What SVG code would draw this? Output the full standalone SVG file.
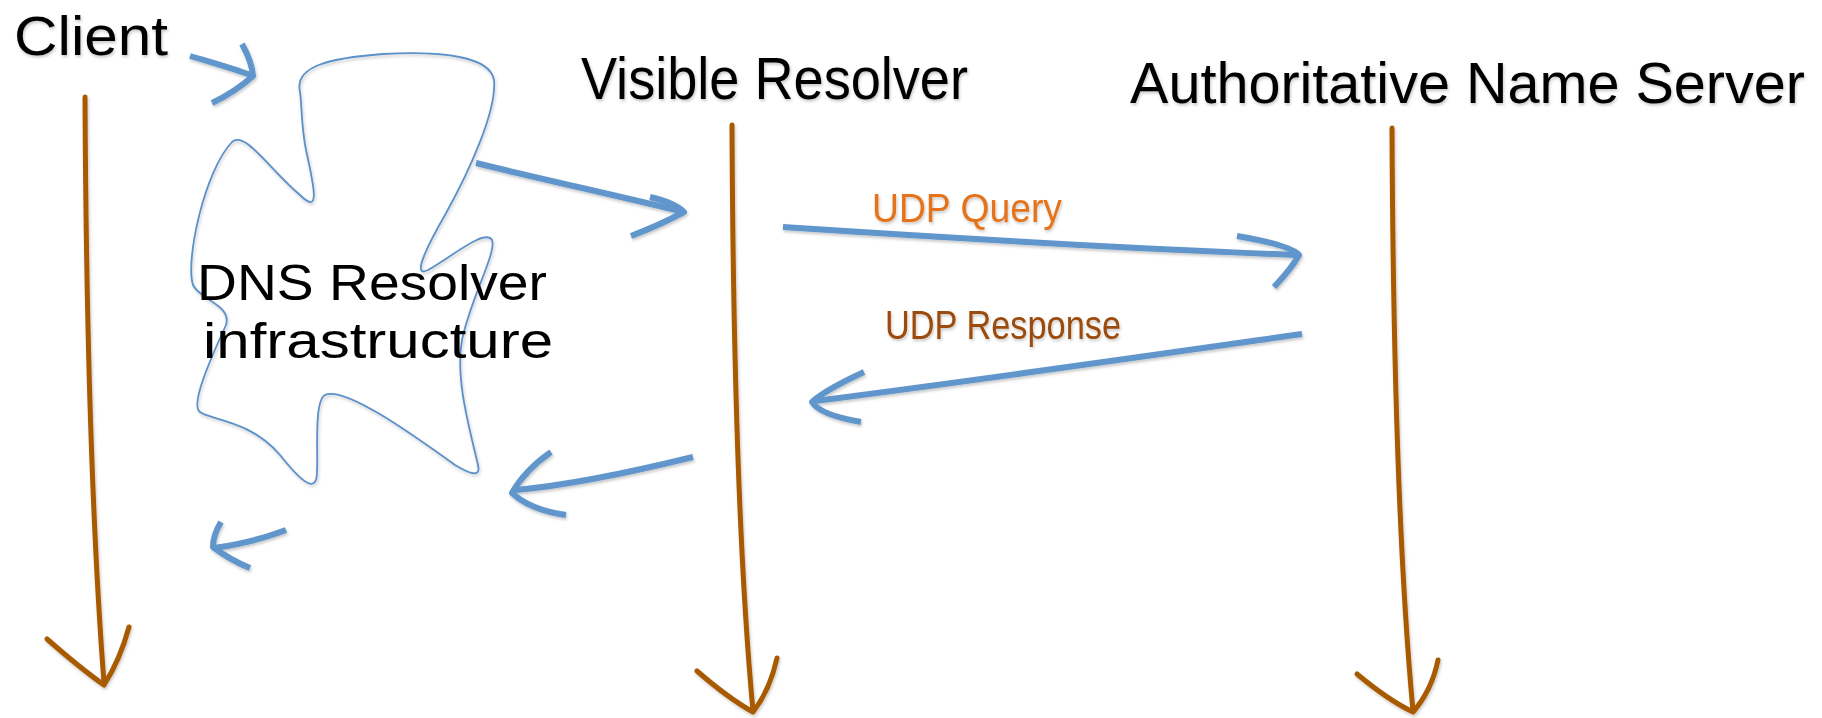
<svg xmlns="http://www.w3.org/2000/svg" width="1822" height="718" viewBox="0 0 1822 718">
  <style>
    .label { font-family: "Liberation Sans", "Noto Sans", sans-serif; fill: #000; }
    .msg { font-family: "Liberation Sans", "Noto Sans", sans-serif; }
    .lifeline { fill: none; stroke: #A85A00; stroke-width: 5; stroke-linecap: round; stroke-linejoin: round; }
    .flow { fill: none; stroke: #6096CB; stroke-width: 6; stroke-linecap: butt; stroke-linejoin: round; }
    .cloud { fill: none; stroke: #5B90C8; stroke-width: 1.8; stroke-linejoin: round; }
  </style>
  <defs>
    <filter id="soft" x="-5%" y="-5%" width="110%" height="110%">
      <feDropShadow dx="1" dy="2" stdDeviation="1.5" flood-color="#000" flood-opacity="0.22"/>
    </filter>
  </defs>

  <rect width="1822" height="718" fill="#fff"/>

  <!-- participants: label plus vertical timeline -->
  <g id="node-client" filter="url(#soft)">
    <text class="label" x="14" y="55" font-size="56" textLength="154" lengthAdjust="spacingAndGlyphs">Client</text>
    <path class="lifeline" d="M85,97 C86,300 90,500 104,683"/>
    <path class="lifeline" d="M47,639 Q80,668 104,685 Q120,660 129,627"/>
  </g>

  <g id="node-visible-resolver" filter="url(#soft)">
    <text class="label" x="581" y="99" font-size="60" textLength="387" lengthAdjust="spacingAndGlyphs">Visible Resolver</text>
    <path class="lifeline" d="M732,125 C733,350 738,550 753,711"/>
    <path class="lifeline" d="M697,671 Q728,698 753,712 Q770,690 777,658"/>
  </g>

  <g id="node-authoritative" filter="url(#soft)">
    <text class="label" x="1130" y="103" font-size="57" textLength="675" lengthAdjust="spacingAndGlyphs">Authoritative Name Server</text>
    <path class="lifeline" d="M1392,128 C1393,350 1398,550 1413,711"/>
    <path class="lifeline" d="M1357,674 Q1388,700 1413,712 Q1432,690 1438,660"/>
  </g>

  <g id="node-resolver-cloud">
    <path class="cloud" filter="url(#soft)" d="M300,92
      C294,66 330,58 383,54
      C440,51 490,56 494,80
      C497,110 470,170 445,215
      C425,250 412,278 428,270
      C450,258 485,228 492,240
      C497,252 470,300 462,340
      C455,380 470,430 478,465
      C481,478 470,474 455,465
      C420,440 345,385 325,395
      C312,402 320,470 316,480
      C312,490 300,480 280,455
      C250,420 210,420 200,412
      C190,405 210,360 226,325
      C232,305 200,300 193,285
      C185,260 205,170 232,142
      C245,130 270,170 300,195
      C320,215 315,190 306,150
      C301,125 302,105 300,92 Z"/>
    <text class="label" x="197" y="300" font-size="50" textLength="350" lengthAdjust="spacingAndGlyphs">DNS Resolver</text>
    <text class="label" x="203" y="358" font-size="50" textLength="350" lengthAdjust="spacingAndGlyphs">infrastructure</text>
  </g>

  <!-- message arrows -->
  <g id="connectors" filter="url(#soft)">
    <path class="flow" d="M190,56 C210,62 232,68 253,76"/>
    <path class="flow" d="M242,44 Q252,62 253,76 Q235,92 212,103"/>

    <path class="flow" d="M476,163 C545,180 615,195 684,212"/>
    <path class="flow" d="M650,197 Q675,203 684,212 Q660,225 631,236"/>

    <path class="flow" d="M783,227 C950,238 1120,248 1297,255"/>
    <path class="flow" d="M1237,236 Q1290,245 1299,255 Q1292,268 1274,287"/>
    <text class="msg" x="872" y="222" font-size="40" fill="#E5731A" textLength="190" lengthAdjust="spacingAndGlyphs">UDP Query</text>

    <path class="flow" d="M1302,334 C1140,357 980,380 815,401"/>
    <path class="flow" d="M864,372 Q825,390 812,402 Q820,415 861,422"/>
    <text class="msg" x="885" y="339" font-size="40" fill="#9A4B0A" textLength="236" lengthAdjust="spacingAndGlyphs">UDP Response</text>

    <path class="flow" d="M693,457 C640,470 570,485 516,490"/>
    <path class="flow" d="M551,452 Q525,470 512,493 Q530,510 566,515"/>

    <path class="flow" d="M286,530 C260,540 235,545 214,548"/>
    <path class="flow" d="M221,522 Q213,535 213,547 Q230,560 250,568"/>
  </g>
</svg>
